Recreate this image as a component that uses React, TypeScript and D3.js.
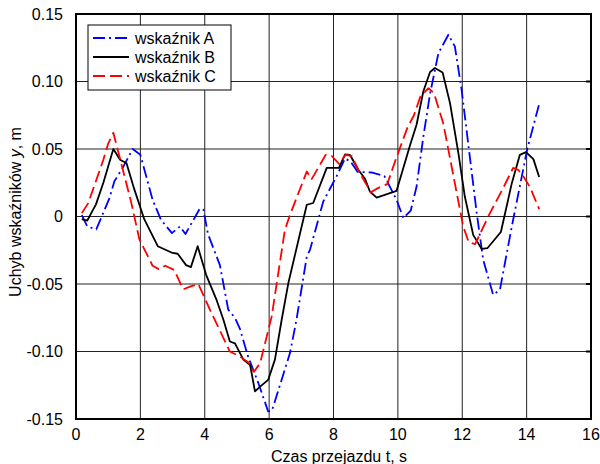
import { useRef, useEffect } from 'react'
import * as d3 from 'd3'

// wskaźnik A (blue, dash-dot)
const timeA = [0.18, 0.35, 0.63, 1.04, 1.19, 1.45, 1.76, 2.0, 2.38, 2.64, 2.98, 3.23, 3.4, 3.85, 3.96, 4.1, 4.47, 4.73, 4.94, 5.09, 5.35, 5.66, 5.97, 6.08, 6.13, 6.65, 6.85, 7.17, 7.27, 7.68, 8.1, 8.36, 8.53, 8.75, 9.18, 9.58, 9.96, 10.17, 10.4, 10.58, 10.79, 11.0, 11.26, 11.57, 11.77, 11.98, 12.45, 12.65, 12.96, 13.17, 13.54, 14.02, 14.39]
const valueA = [0.001, -0.0074, -0.0095, 0.0136, 0.026, 0.036, 0.05, 0.0457, 0.0124, -0.0024, -0.0123, -0.0074, -0.013, 0.006, 0.005, -0.013, -0.036, -0.069, -0.075, -0.083, -0.104, -0.123, -0.1444, -0.144, -0.1407, -0.101, -0.0765, -0.0296, -0.0247, 0.011, 0.03, 0.043, 0.0407, 0.033, 0.0326, 0.03, 0.0124, -0.0012, 0.0044, 0.022, 0.059, 0.091, 0.121, 0.1346, 0.126, 0.094, 0.0025, -0.032, -0.058, -0.0543, -0.0074, 0.05, 0.0833]

// wskaźnik B (black, solid)
const timeB = [0.18, 0.35, 0.62, 0.85, 1.16, 1.37, 1.57, 1.8, 2.12, 2.54, 3.0, 3.16, 3.42, 3.57, 3.78, 4.04, 4.37, 4.58, 4.78, 4.94, 5.2, 5.41, 5.56, 5.72, 5.97, 6.18, 6.39, 6.6, 7.17, 7.37, 7.79, 8.17, 8.36, 8.51, 8.77, 8.98, 9.13, 9.34, 9.96, 10.38, 10.58, 10.79, 11.0, 11.15, 11.39, 11.62, 11.88, 12.08, 12.34, 12.6, 12.78, 13.2, 13.54, 13.79, 13.98, 14.21, 14.39]
const valueB = [-0.002, -0.003, 0.009, 0.025, 0.05, 0.042, 0.0395, 0.021, -0.002, -0.022, -0.027, -0.0276, -0.036, -0.0375, -0.022, -0.043, -0.062, -0.0765, -0.0926, -0.094, -0.106, -0.11, -0.1296, -0.126, -0.121, -0.106, -0.0765, -0.049, 0.0087, 0.01, 0.036, 0.036, 0.046, 0.0457, 0.0346, 0.028, 0.0185, 0.014, 0.019, 0.053, 0.068, 0.0926, 0.107, 0.11, 0.1067, 0.084, 0.047, 0.0148, -0.0136, -0.024, -0.0235, -0.0115, 0.0247, 0.0457, 0.0477, 0.0425, 0.0292]

// wskaźnik C (red, dashed)
const timeC = [0.18, 0.38, 0.85, 1.0, 1.16, 1.35, 1.71, 1.97, 2.38, 2.57, 2.77, 3.05, 3.33, 3.54, 3.8, 4.16, 4.78, 5.09, 5.35, 5.53, 5.72, 6.08, 6.49, 6.65, 7.17, 7.32, 7.76, 7.94, 8.17, 8.38, 8.57, 8.82, 9.16, 9.38, 9.67, 9.93, 10.3, 10.5, 10.7, 10.95, 11.12, 11.41, 12.03, 12.2, 12.4, 12.86, 13.27, 13.58, 13.74, 13.9, 14.1, 14.39]
const valueC = [0.0025, 0.0099, 0.042, 0.054, 0.062, 0.0444, 0.011, -0.017, -0.0365, -0.039, -0.0365, -0.0395, -0.054, -0.052, -0.05, -0.069, -0.1, -0.1037, -0.108, -0.115, -0.1086, -0.074, -0.0099, 0.0013, 0.0333, 0.0277, 0.0457, 0.045, 0.039, 0.0457, 0.0447, 0.032, 0.018, 0.021, 0.024, 0.042, 0.066, 0.075, 0.089, 0.095, 0.0915, 0.069, -0.0074, -0.019, -0.0205, 0.0025, 0.021, 0.036, 0.0346, 0.0296, 0.022, 0.0055]

const xTicks = [0, 2, 4, 6, 8, 10, 12, 14, 16]
const yTicks = [-0.15, -0.1, -0.05, 0, 0.05, 0.1, 0.15]
const yTickLabels = ['-0.15', '-0.10', '-0.05', '0', '0.05', '0.10', '0.15']
const seriesNames = ['wskaźnik A', 'wskaźnik B', 'wskaźnik C']

const FONT = "Arial, 'Liberation Sans', sans-serif"

export default function App() {
  const svgRef = useRef<SVGSVGElement>(null)

  useEffect(() => {
    if (!svgRef.current) return
    const svg = d3.select(svgRef.current)
    svg.selectAll('*').remove()

    const left = 76, right = 591, top = 14, bottom = 419
    const x = d3.scaleLinear().domain([0, 16]).range([left, right])
    const y = d3.scaleLinear().domain([-0.15, 0.15]).range([bottom, top])

    svg.append('rect').attr('width', 600).attr('height', 464).attr('fill', 'white')

    // grid
    const grid = svg.append('g').attr('stroke', '#222').attr('stroke-width', 1)
    xTicks.slice(1, -1).forEach(t => {
      grid.append('line')
        .attr('x1', x(t)).attr('x2', x(t))
        .attr('y1', top).attr('y2', bottom)
    })
    yTicks.slice(1, -1).forEach(v => {
      grid.append('line')
        .attr('x1', left).attr('x2', right)
        .attr('y1', y(v)).attr('y2', y(v))
    })

    // right side ticks
    yTicks.slice(1, -1).forEach(v => {
      svg.append('line')
        .attr('x1', right - 5).attr('x2', right)
        .attr('y1', y(v)).attr('y2', y(v))
        .attr('stroke', 'black').attr('stroke-width', 2)
    })

    // series
    const series = [
      { t: timeA, v: valueA, color: '#0000ff', dash: '12,4,2,4' },
      { t: timeB, v: valueB, color: '#000000', dash: null },
      { t: timeC, v: valueC, color: '#ff0000', dash: '12,5' },
    ]
    const line = d3.line<[number, number]>()
      .x(d => x(d[0]))
      .y(d => y(d[1]))

    series.forEach(s => {
      const pts = s.t.map((t, i) => [t, s.v[i]] as [number, number])
      svg.append('path')
        .attr('d', line(pts))
        .attr('fill', 'none')
        .attr('stroke', s.color)
        .attr('stroke-width', 1.8)
        .attr('stroke-linejoin', 'round')
        .attr('stroke-dasharray', s.dash)
    })

    // frame
    svg.append('rect')
      .attr('x', left).attr('y', top)
      .attr('width', right - left).attr('height', bottom - top)
      .attr('fill', 'none').attr('stroke', 'black').attr('stroke-width', 2)

    // tick labels
    xTicks.forEach(t => {
      svg.append('text')
        .attr('x', x(t)).attr('y', 440)
        .attr('text-anchor', 'middle')
        .attr('font-family', FONT).attr('font-size', 16)
        .text(t)
    })
    yTicks.forEach((v, i) => {
      svg.append('text')
        .attr('x', 63).attr('y', y(v)).attr('dy', '0.36em')
        .attr('text-anchor', 'end')
        .attr('font-family', FONT).attr('font-size', 16)
        .text(yTickLabels[i])
    })

    // axis titles
    svg.append('text')
      .attr('x', 339).attr('y', 462)
      .attr('text-anchor', 'middle')
      .attr('font-family', FONT).attr('font-size', 16)
      .text('Czas przejazdu t, s')

    const yTitle = svg.append('text')
      .attr('transform', 'translate(21,212) rotate(-90)')
      .attr('text-anchor', 'middle')
      .attr('font-family', FONT).attr('font-size', 16)
    yTitle.append('tspan').text('Uchyb wskaźników ')
    yTitle.append('tspan').attr('font-style', 'italic').text('y')
    yTitle.append('tspan').text(', m')

    // legend
    const lg = svg.append('g')
    lg.append('rect')
      .attr('x', 88).attr('y', 25).attr('width', 143).attr('height', 65)
      .attr('fill', 'white').attr('stroke', 'black').attr('stroke-width', 1)
    series.forEach((s, i) => {
      const ly = 38 + i * 19
      lg.append('line')
        .attr('x1', 93).attr('x2', 129)
        .attr('y1', ly).attr('y2', ly)
        .attr('stroke', s.color).attr('stroke-width', 1.8)
        .attr('stroke-dasharray', s.dash)
      lg.append('text')
        .attr('x', 135).attr('y', ly).attr('dy', '0.36em')
        .attr('font-family', FONT).attr('font-size', 16)
        .text(seriesNames[i])
    })
  }, [])

  return (
    <svg
      ref={svgRef}
      width={600}
      height={464}
      style={{ position: 'absolute', left: 0, top: 0 }}
    />
  )
}
